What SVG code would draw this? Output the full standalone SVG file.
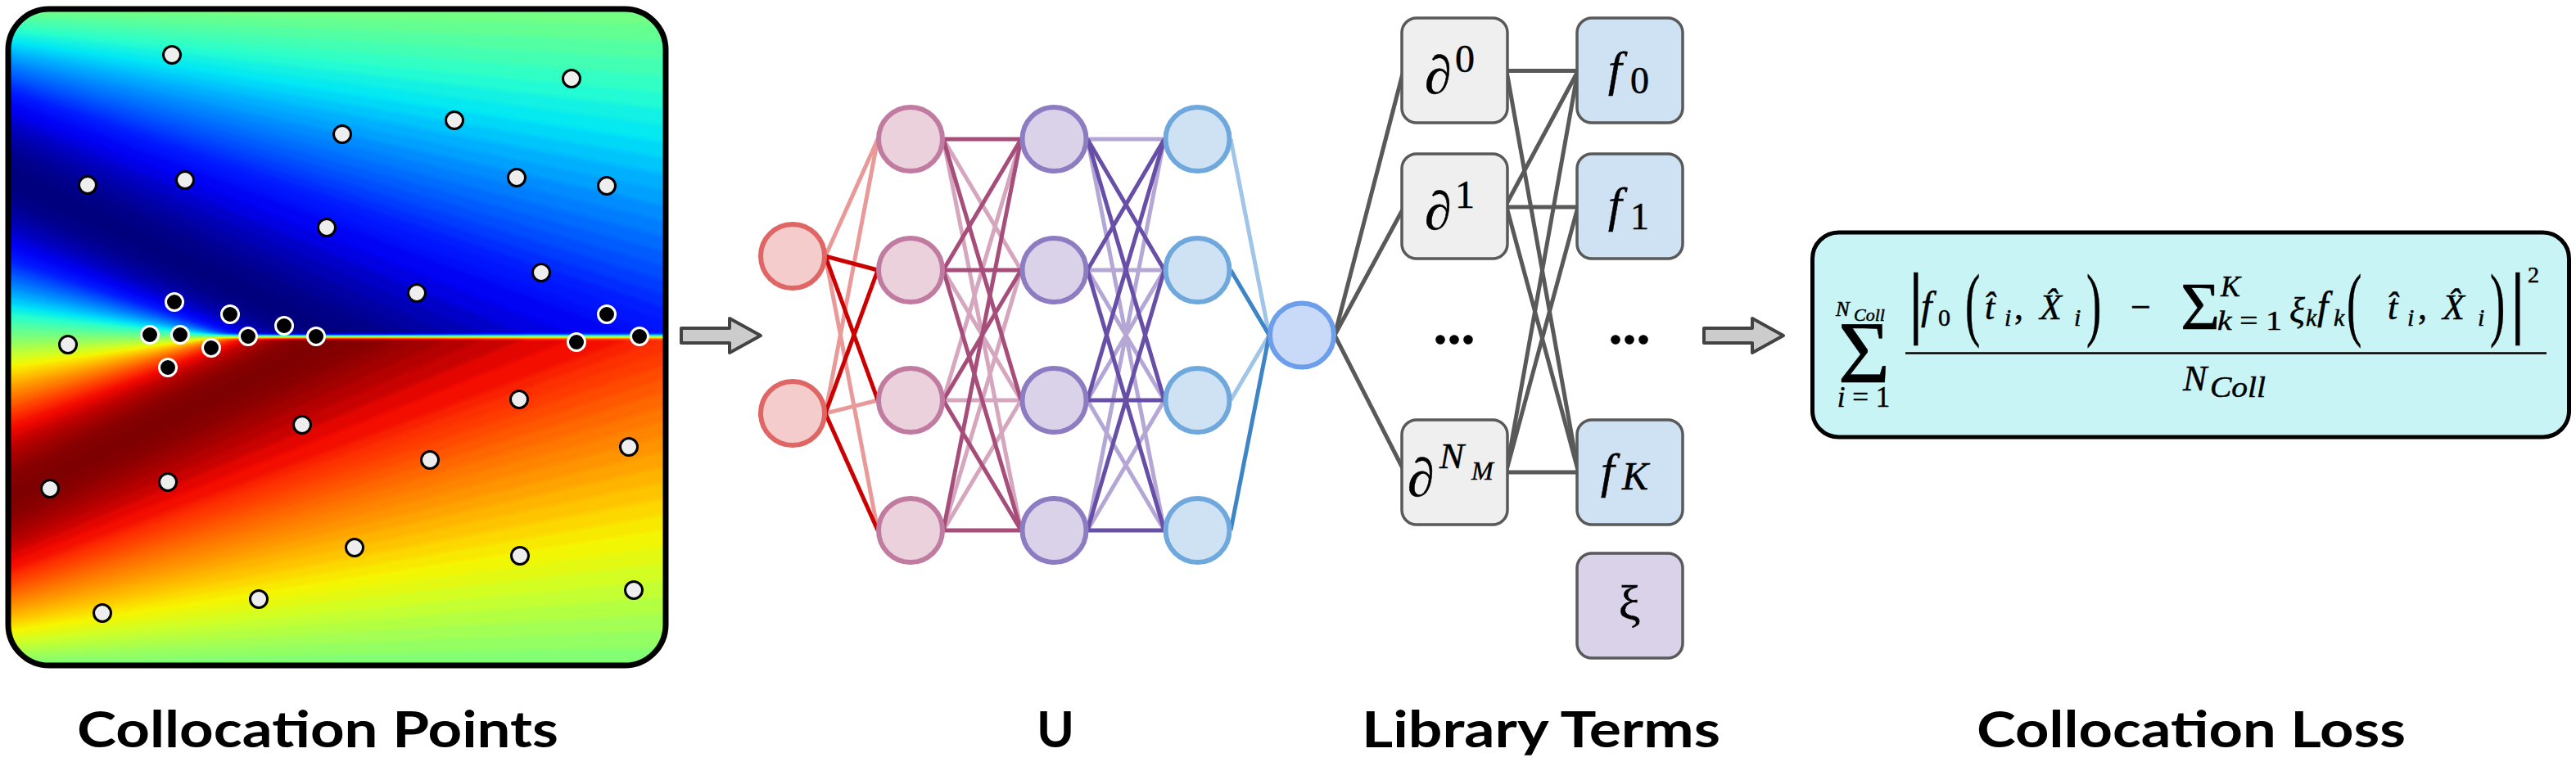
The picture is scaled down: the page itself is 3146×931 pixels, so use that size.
<svg xmlns="http://www.w3.org/2000/svg" xmlns:xlink="http://www.w3.org/1999/xlink" width="3146" height="931" viewBox="0 0 3146 931">
<style>
.pt{fill:#eeeeee;stroke:#000;stroke-width:3}
.pb{fill:#000;stroke:#fff;stroke-width:3}
.in{fill:#f4cccc;stroke:#e06666;stroke-width:6}
.l1{fill:#ead1dc;stroke:#c27ba0;stroke-width:6}
.l2{fill:#d9d2e9;stroke:#8e7cc3;stroke-width:6}
.l3{fill:#cfe2f3;stroke:#6fa8dc;stroke-width:6}
.out{fill:#c9daf8;stroke:#6d9eeb;stroke-width:6}
.e line{stroke-width:5}
.rD{stroke:#cc0000}.rL{stroke:#ea9999}
.mD{stroke:#a64d79}.mL{stroke:#d5a6bd}
.pD{stroke:#674ea7}.pL{stroke:#b4a7d6}
.bD{stroke:#3d85c6}.bL{stroke:#9fc5e8}
.g line{stroke:#595959;stroke-width:5}
.box{stroke:#595959;stroke-width:3.5}
.m{font-family:"Liberation Serif","Times New Roman",serif;fill:#000;stroke:#000;stroke-width:0.5}
.it{font-style:italic}
.lab{font-family:Lato,"Open Sans",sans-serif;font-weight:bold;font-size:62px;fill:#000;text-anchor:middle}
.arr{fill:#cccccc;stroke:#434343;stroke-width:4;stroke-linejoin:round}
</style>
<defs>
<clipPath id="pc"><rect x="10" y="11" width="803" height="802" rx="50"/></clipPath>
<filter id="jet" filterUnits="userSpaceOnUse" x="0" y="0" width="830" height="830" color-interpolation-filters="sRGB">
<feGaussianBlur stdDeviation="2.5"/>
<feComponentTransfer>
<feFuncR type="table" tableValues="0 0 0 0 0 0 0 0 0.161 0.323 0.484 0.645 0.806 0.968 1 1 1 1 0.955 0.727 0.5"/>
<feFuncG type="table" tableValues="0 0 0 0.1 0.3 0.5 0.7 0.9 1 1 1 1 1 0.963 0.778 0.593 0.407 0.222 0.037 0 0"/>
<feFuncB type="table" tableValues="0.5 0.727 0.955 1 1 1 1 0.968 0.806 0.645 0.484 0.323 0.161 0 0 0 0 0 0 0 0"/>
</feComponentTransfer>
</filter>
<filter id="inv" color-interpolation-filters="sRGB">
<feComponentTransfer>
<feFuncR type="linear" slope="-1" intercept="1"/>
<feFuncG type="linear" slope="-1" intercept="1"/>
<feFuncB type="linear" slope="-1" intercept="1"/>
</feComponentTransfer>
</filter>
<g id="half">
<polygon points="0,10 830,10 830,411 0,411" fill="rgb(125,125,125)"/>
<polygon points="0,15 830,31.1 830,411 0,411" fill="rgb(120,120,120)"/>
<polygon points="0,20 830,52.1 830,411 0,411" fill="rgb(115,115,115)"/>
<polygon points="0,25 830,73.1 830,411 0,411" fill="rgb(110,110,110)"/>
<polygon points="0,30 830,94 830,411 0,411" fill="rgb(105,105,105)"/>
<polygon points="0,35.1 830,114.9 830,411 0,411" fill="rgb(100,100,100)"/>
<polygon points="0,40.1 830,135.6 830,411 0,411" fill="rgb(95,95,95)"/>
<polygon points="0,45.1 830,156.1 830,411 0,411" fill="rgb(91,91,91)"/>
<polygon points="0,50.1 830,176.5 830,411 0,411" fill="rgb(86,86,86)"/>
<polygon points="0,55.1 830,196.7 830,411 0,411" fill="rgb(81,81,81)"/>
<polygon points="0,60.1 830,216.7 830,411 0,411" fill="rgb(76,76,76)"/>
<polygon points="0,65.1 830,236.4 830,411 0,411" fill="rgb(72,72,72)"/>
<polygon points="0,70.2 830,255.8 830,411 0,411" fill="rgb(67,67,67)"/>
<polygon points="0,75.2 830,275 830,411 0,411" fill="rgb(63,63,63)"/>
<polygon points="0,80.2 830,293.9 830,411 0,411" fill="rgb(59,59,59)"/>
<polygon points="0,85.2 830,312.4 830,411 0,411" fill="rgb(55,55,55)"/>
<polygon points="0,90.2 830,330.6 830,411 0,411" fill="rgb(51,51,51)"/>
<polygon points="0,95.2 830,348.4 830,411 0,411" fill="rgb(47,47,47)"/>
<polygon points="0,100.2 830,365.9 830,411 0,411" fill="rgb(43,43,43)"/>
<polygon points="0,105.2 830,382.9 830,411 0,411" fill="rgb(39,39,39)"/>
<polygon points="0,110.3 830,399.5 830,411 0,411" fill="rgb(36,36,36)"/>
<polygon points="0,115.3 816.5,411 0,411" fill="rgb(32,32,32)"/>
<polygon points="0,120.3 775.6,411 0,411" fill="rgb(27,27,27)"/>
<polygon points="0,130.3 704.8,411 0,411" fill="rgb(22,22,22)"/>
<polygon points="0,140.3 645.7,411 0,411" fill="rgb(16,16,16)"/>
<polygon points="0,150.4 595.8,411 0,411" fill="rgb(12,12,12)"/>
<polygon points="0,160.4 553.2,411 0,411" fill="rgb(8,8,8)"/>
<polygon points="0,170.4 516.6,411 0,411" fill="rgb(5,5,5)"/>
<polygon points="0,180.4 484.8,411 0,411" fill="rgb(2,2,2)"/>
<polygon points="0,190.5 457.2,411 0,411" fill="rgb(1,1,1)"/>
<polygon points="0,200.5 432.9,411 0,411" fill="rgb(0,0,0)"/>
<polygon points="0,210.5 411.5,411 0,411" fill="rgb(0,0,0)"/>
<polygon points="0,220.5 392.6,411 0,411" fill="rgb(1,1,1)"/>
<polygon points="0,230.6 375.9,411 0,411" fill="rgb(2,2,2)"/>
<polygon points="0,240.6 361,411 0,411" fill="rgb(5,5,5)"/>
<polygon points="0,250.6 347.7,411 0,411" fill="rgb(8,8,8)"/>
<polygon points="0,260.6 335.9,411 0,411" fill="rgb(12,12,12)"/>
<polygon points="0,270.7 325.4,411 0,411" fill="rgb(16,16,16)"/>
<polygon points="0,280.7 316.1,411 0,411" fill="rgb(22,22,22)"/>
<polygon points="0,290.7 307.8,411 0,411" fill="rgb(27,27,27)"/>
<polygon points="0,300.7 300.4,411 0,411" fill="rgb(34,34,34)"/>
<polygon points="0,310.8 293.9,411 0,411" fill="rgb(41,41,41)"/>
<polygon points="0,320.8 288.2,411 0,411" fill="rgb(49,49,49)"/>
<polygon points="0,330.8 283.2,411 0,411" fill="rgb(57,57,57)"/>
<polygon points="0,340.8 278.9,411 0,411" fill="rgb(65,65,65)"/>
<polygon points="0,350.9 275.3,411 0,411" fill="rgb(74,74,74)"/>
<polygon points="0,360.9 272.3,411 0,411" fill="rgb(83,83,83)"/>
<polygon points="0,370.9 269.9,411 0,411" fill="rgb(93,93,93)"/>
<polygon points="0,380.9 268,411 0,411" fill="rgb(103,103,103)"/>
<polygon points="0,391 266.7,411 0,411" fill="rgb(113,113,113)"/>
<polygon points="0,401 265.9,411 0,411" fill="rgb(123,123,123)"/>
</g>
</defs>
<rect width="3146" height="931" fill="#ffffff"/>

<g id="collocation-panel">
<g clip-path="url(#pc)">
<g filter="url(#jet)">
<rect x="0" y="0" width="830" height="830" fill="rgb(128,128,128)"/>
<use href="#half" xlink:href="#half"/>
<use href="#half" xlink:href="#half" transform="matrix(1 0 0 -1 0 822)" filter="url(#inv)"/>
</g>
</g>
<rect x="10" y="11" width="803" height="802" rx="50" fill="none" stroke="#000" stroke-width="7"/>
<g>
<circle class="pt" cx="210" cy="67" r="10.5"/>
<circle class="pt" cx="698" cy="96" r="10.5"/>
<circle class="pt" cx="555" cy="147" r="10.5"/>
<circle class="pt" cx="418" cy="164" r="10.5"/>
<circle class="pt" cx="107" cy="226" r="10.5"/>
<circle class="pt" cx="226" cy="220" r="10.5"/>
<circle class="pt" cx="631" cy="217" r="10.5"/>
<circle class="pt" cx="741" cy="227" r="10.5"/>
<circle class="pt" cx="399" cy="278" r="10.5"/>
<circle class="pt" cx="661" cy="333" r="10.5"/>
<circle class="pt" cx="509" cy="358" r="10.5"/>
<circle class="pt" cx="83" cy="421" r="10.5"/>
<circle class="pt" cx="634" cy="488" r="10.5"/>
<circle class="pt" cx="369" cy="519" r="10.5"/>
<circle class="pt" cx="768" cy="546" r="10.5"/>
<circle class="pt" cx="525" cy="562" r="10.5"/>
<circle class="pt" cx="61" cy="597" r="10.5"/>
<circle class="pt" cx="205" cy="589" r="10.5"/>
<circle class="pt" cx="433" cy="669" r="10.5"/>
<circle class="pt" cx="635" cy="679" r="10.5"/>
<circle class="pt" cx="774" cy="721" r="10.5"/>
<circle class="pt" cx="125" cy="749" r="10.5"/>
<circle class="pt" cx="316" cy="732" r="10.5"/>
<circle class="pb" cx="213" cy="369" r="10.5"/>
<circle class="pb" cx="281" cy="384" r="10.5"/>
<circle class="pb" cx="347" cy="398" r="10.5"/>
<circle class="pb" cx="183" cy="409" r="10.5"/>
<circle class="pb" cx="220" cy="409" r="10.5"/>
<circle class="pb" cx="303" cy="411" r="10.5"/>
<circle class="pb" cx="386" cy="411" r="10.5"/>
<circle class="pb" cx="258" cy="425" r="10.5"/>
<circle class="pb" cx="205" cy="449" r="10.5"/>
<circle class="pb" cx="741" cy="384" r="10.5"/>
<circle class="pb" cx="704" cy="418" r="10.5"/>
<circle class="pb" cx="781" cy="411" r="10.5"/>
</g>
</g>

<g id="connectors">
<polygon class="arr" points="832,401 891,401 891,389 929,410 891,431 891,419 832,419"/>
<polygon class="arr" points="2081,401 2140,401 2140,389 2178,410 2140,431 2140,419 2081,419"/>
<g class="e">
<line class="rL" x1="1008" y1="313" x2="1072" y2="170"/>
<line class="rL" x1="1008" y1="313" x2="1072" y2="648"/>
<line class="rL" x1="1008" y1="505" x2="1072" y2="170"/>
<line class="rL" x1="1008" y1="505" x2="1072" y2="489"/>
<line class="rD" x1="1008" y1="313" x2="1072" y2="330"/>
<line class="rD" x1="1008" y1="313" x2="1072" y2="489"/>
<line class="rD" x1="1008" y1="505" x2="1072" y2="330"/>
<line class="rD" x1="1008" y1="505" x2="1072" y2="648"/>

<line class="mL" x1="1152" y1="170" x2="1247" y2="330"/>
<line class="mL" x1="1152" y1="170" x2="1247" y2="648"/>
<line class="mL" x1="1152" y1="330" x2="1247" y2="489"/>
<line class="mL" x1="1152" y1="489" x2="1247" y2="170"/>
<line class="mL" x1="1152" y1="489" x2="1247" y2="489"/>
<line class="mL" x1="1152" y1="648" x2="1247" y2="330"/>
<line class="mL" x1="1152" y1="648" x2="1247" y2="489"/>
<line class="mD" x1="1152" y1="170" x2="1247" y2="170"/>
<line class="mD" x1="1152" y1="170" x2="1247" y2="489"/>
<line class="mD" x1="1152" y1="330" x2="1247" y2="170"/>
<line class="mD" x1="1152" y1="330" x2="1247" y2="330"/>
<line class="mD" x1="1152" y1="330" x2="1247" y2="648"/>
<line class="mD" x1="1152" y1="489" x2="1247" y2="330"/>
<line class="mD" x1="1152" y1="489" x2="1247" y2="648"/>
<line class="mD" x1="1152" y1="648" x2="1247" y2="170"/>
<line class="mD" x1="1152" y1="648" x2="1247" y2="648"/>

<line class="pL" x1="1328" y1="170" x2="1422" y2="170"/>
<line class="pL" x1="1328" y1="170" x2="1422" y2="648"/>
<line class="pL" x1="1328" y1="330" x2="1422" y2="330"/>
<line class="pL" x1="1328" y1="330" x2="1422" y2="489"/>
<line class="pL" x1="1328" y1="489" x2="1422" y2="330"/>
<line class="pL" x1="1328" y1="489" x2="1422" y2="648"/>
<line class="pL" x1="1328" y1="648" x2="1422" y2="170"/>
<line class="pL" x1="1328" y1="648" x2="1422" y2="489"/>
<line class="pD" x1="1328" y1="170" x2="1422" y2="330"/>
<line class="pD" x1="1328" y1="170" x2="1422" y2="489"/>
<line class="pD" x1="1328" y1="330" x2="1422" y2="170"/>
<line class="pD" x1="1328" y1="330" x2="1422" y2="648"/>
<line class="pD" x1="1328" y1="489" x2="1422" y2="170"/>
<line class="pD" x1="1328" y1="489" x2="1422" y2="489"/>
<line class="pD" x1="1328" y1="648" x2="1422" y2="330"/>
<line class="pD" x1="1328" y1="648" x2="1422" y2="648"/>

<line class="bL" x1="1503" y1="170" x2="1550" y2="409.5"/>
<line class="bL" x1="1503" y1="489" x2="1550" y2="409.5"/>
<line class="bD" x1="1503" y1="330" x2="1550" y2="409.5"/>
<line class="bD" x1="1503" y1="648" x2="1550" y2="409.5"/>
</g>
<g class="g">
<line x1="1630" y1="409.5" x2="1713" y2="90"/>
<line x1="1630" y1="409.5" x2="1713" y2="256"/>
<line x1="1630" y1="409.5" x2="1713" y2="572"/>
<line x1="1840" y1="86.5" x2="1927" y2="86.5"/>
<line x1="1840" y1="87" x2="1927" y2="574"/>
<line x1="1840" y1="249" x2="1927" y2="87"/>
<line x1="1840" y1="253" x2="1927" y2="253"/>
<line x1="1840" y1="253" x2="1927" y2="574"/>
<line x1="1840" y1="574" x2="1927" y2="87"/>
<line x1="1840" y1="574" x2="1927" y2="253"/>
<line x1="1840" y1="577" x2="1927" y2="577"/>
</g>
</g>

<g id="nn-input">
<circle class="in" cx="968" cy="313" r="39"/>
<circle class="in" cx="968" cy="505" r="39"/>
</g>
<g id="nn-layer1">
<circle class="l1" cx="1112" cy="170" r="39"/>
<circle class="l1" cx="1112" cy="330" r="39"/>
<circle class="l1" cx="1112" cy="489" r="39"/>
<circle class="l1" cx="1112" cy="648" r="39"/>
</g>
<g id="nn-layer2">
<circle class="l2" cx="1287.5" cy="170" r="39"/>
<circle class="l2" cx="1287.5" cy="330" r="39"/>
<circle class="l2" cx="1287.5" cy="489" r="39"/>
<circle class="l2" cx="1287.5" cy="648" r="39"/>
</g>
<g id="nn-layer3">
<circle class="l3" cx="1462.5" cy="170" r="39"/>
<circle class="l3" cx="1462.5" cy="330" r="39"/>
<circle class="l3" cx="1462.5" cy="489" r="39"/>
<circle class="l3" cx="1462.5" cy="648" r="39"/>
</g>
<g id="nn-output">
<circle class="out" cx="1590" cy="409.5" r="39"/>
</g>

<g id="lib-d0">
<rect class="box" x="1712" y="22" width="129" height="128" rx="18" fill="#efefef"/>
<text class="m it" x="1740" y="114" font-size="66">∂</text>
<text class="m" x="1777" y="88" font-size="48">0</text>
</g>
<g id="lib-d1">
<rect class="box" x="1712" y="188" width="129" height="128" rx="18" fill="#efefef"/>
<text class="m it" x="1740" y="280" font-size="66">∂</text>
<text class="m" x="1777" y="254" font-size="48">1</text>
</g>
<g id="lib-dots">
<text class="m" x="1776" y="420" font-size="68" font-weight="bold" text-anchor="middle">...</text>
<text class="m" x="1990" y="420" font-size="68" font-weight="bold" text-anchor="middle">...</text>
</g>
<g id="lib-dN">
<rect class="box" x="1712" y="513" width="129" height="128" rx="18" fill="#efefef"/>
<text class="m it" x="1719" y="606" font-size="66">∂</text>
<text class="m it" x="1758" y="572" font-size="45">N</text>
<text class="m it" x="1797" y="586" font-size="32">M</text>
</g>
<g id="lib-f0">
<rect class="box" x="1926" y="22" width="129" height="128" rx="18" fill="#cfe2f3"/>
<text class="m it" x="1964" y="104" font-size="60">f</text>
<text class="m" x="1991" y="114" font-size="46">0</text>
</g>
<g id="lib-f1">
<rect class="box" x="1926" y="188" width="129" height="128" rx="18" fill="#cfe2f3"/>
<text class="m it" x="1964" y="270" font-size="60">f</text>
<text class="m" x="1991" y="280" font-size="46">1</text>
</g>
<g id="lib-fK">
<rect class="box" x="1926" y="513" width="129" height="128" rx="18" fill="#cfe2f3"/>
<text class="m it" x="1955" y="595" font-size="60">f</text>
<text class="m it" x="1981" y="598" font-size="48">K</text>
</g>
<g id="lib-xi">
<rect class="box" x="1926" y="676" width="129" height="128" rx="18" fill="#d9d2e9"/>
<text class="m" x="1990" y="757" font-size="60" text-anchor="middle">ξ</text>
</g>

<g id="loss-box">
<rect x="2213.5" y="284" width="924" height="250" rx="32" fill="#c9f4f5" stroke="#000" stroke-width="5"/>
<text class="m" x="2276.5" y="467" font-size="109" text-anchor="middle">Σ</text>
<text class="m it" x="2242" y="386" font-size="25">N</text>
<text class="m it" x="2264" y="392" font-size="22">Coll</text>
<text class="m" x="2276" y="497" font-size="35" text-anchor="middle"><tspan font-style="italic">i</tspan> = 1</text>
<text class="m" x="2330" y="401" font-size="97">|</text>
<text class="m it" x="2346" y="390" font-size="48">f</text>
<text class="m" x="2367" y="398" font-size="30">0</text>
<text class="m" transform="translate(2400,404) scale(0.55,1)" font-size="100">(</text>
<text class="m it" x="2424" y="390" font-size="44">t̂</text>
<text class="m it" x="2448" y="398" font-size="30">i</text>
<text class="m" x="2460" y="390" font-size="44">,</text>
<text class="m it" x="2491" y="390" font-size="44">X̂</text>
<text class="m it" x="2533" y="398" font-size="30">i</text>
<text class="m" transform="translate(2548,404) scale(0.55,1)" font-size="100">)</text>
<text class="m" x="2602" y="390" font-size="44">−</text>
<text class="m" x="2663" y="402" font-size="83">Σ</text>
<text class="m it" x="2712" y="362" font-size="36">K</text>
<text class="m" x="2708" y="403" font-size="34" textLength="79" lengthAdjust="spacingAndGlyphs"><tspan font-style="italic">k</tspan> = 1</text>
<text class="m it" x="2796" y="394" font-size="44">ξ</text>
<text class="m it" x="2816" y="398" font-size="30">k</text>
<text class="m it" x="2830" y="390" font-size="48">f</text>
<text class="m it" x="2850" y="398" font-size="30">k</text>
<text class="m" transform="translate(2866,404) scale(0.55,1)" font-size="100">(</text>
<text class="m it" x="2916" y="390" font-size="44">t̂</text>
<text class="m it" x="2940" y="398" font-size="30">i</text>
<text class="m" x="2953" y="390" font-size="44">,</text>
<text class="m it" x="2983" y="390" font-size="44">X̂</text>
<text class="m it" x="3026" y="398" font-size="30">i</text>
<text class="m" transform="translate(3041,404) scale(0.55,1)" font-size="100">)</text>
<text class="m" x="3065" y="401" font-size="97">|</text>
<text class="m" x="3087" y="345" font-size="28">2</text>
<line x1="2327" y1="431.5" x2="3110" y2="431.5" stroke="#000" stroke-width="2.5"/>
<text class="m it" x="2666" y="477" font-size="44">N</text>
<text class="m it" x="2699" y="485" font-size="36" textLength="68" lengthAdjust="spacingAndGlyphs">Coll</text>
</g>

<g id="labels">
<text class="lab" x="388" y="913" textLength="588" lengthAdjust="spacingAndGlyphs">Collocation Points</text>
<text class="lab" x="1289" y="913">U</text>
<text class="lab" x="1882" y="913" textLength="438" lengthAdjust="spacingAndGlyphs">Library Terms</text>
<text class="lab" x="2676" y="913" textLength="524" lengthAdjust="spacingAndGlyphs">Collocation Loss</text>
</g>
</svg>
